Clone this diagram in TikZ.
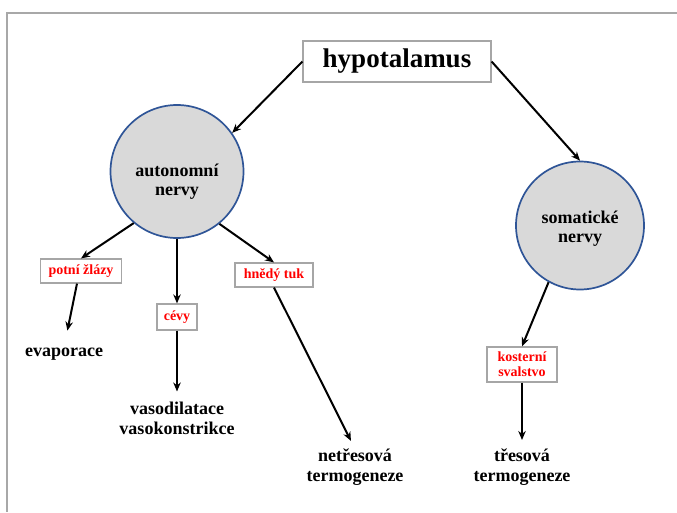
\documentclass[tikz,border=0pt]{standalone}
\usepackage{fontspec}
\setmainfont{Liberation Serif}
\usetikzlibrary{arrows.meta}
\definecolor{framegray}{HTML}{A8A8A8}
\definecolor{boxgray}{HTML}{A6A6A6}
\definecolor{circfill}{HTML}{D9D9D9}
\definecolor{circblue}{HTML}{2F5597}
\definecolor{labred}{HTML}{FF0000}
\begin{document}
\begin{tikzpicture}[x=1pt,y=-1pt,
  bigbox/.style={draw=boxgray, line width=1.2pt, fill=white, minimum width=188pt, minimum height=41pt,
    inner sep=0pt, font=\fontsize{27}{30}\selectfont\bfseries},
  nerve/.style={circle, draw=circblue, line width=1.7pt, fill=circfill, minimum size=#1, inner sep=0pt},
  nervetext/.style={align=center, font=\fontsize{18}{19.6}\selectfont\bfseries},
  redbox/.style={draw=boxgray, line width=1.2pt, fill=white, text=labred, inner sep=0pt, align=center,
    font=\fontsize{14}{15}\selectfont\bfseries},
  outtext/.style={align=center, inner sep=0pt, font=\fontsize{18}{20}\selectfont\bfseries},
  arr/.style={-{Stealth[length=9pt,width=7.5pt]}, line width=2pt, black},
]
\path[use as bounding box] (0,0) rectangle (677,512);
% page frame
\draw[framegray, line width=1.6pt] (677,13) -- (7,13) -- (7,512);

% top level
\node[bigbox] (hyp) at (397,61.5) {hypotalamus};

% nerve circles
\node[nerve=133pt, label={[nervetext, yshift=-10pt]center:{autonomní\\nervy}}] (auto) at (177,171.5) {};
\node[nerve=128pt, label={[nervetext, yshift=-3pt]center:{somatické\\nervy}}] (soma) at (580,225.5) {};

% effector boxes
\node[redbox, minimum width=81pt, minimum height=24pt] (potni) at (81,271) {potní žlázy};
\node[redbox, minimum width=40pt, minimum height=26pt] (cevy) at (177,317) {cévy};
\node[redbox, minimum width=78pt, minimum height=24pt] (hnedy) at (274,275) {hnědý tuk};
\node[redbox, minimum width=70pt, minimum height=35pt] (kost) at (522,364.5) {kosterní\\svalstvo};

% outcomes
\node[outtext, anchor=base] (evap) at (64,356) {evaporace};
\node[outtext] (vaso) at (177,418) {vasodilatace\\vasokonstrikce};
\node[outtext] (netr) at (355,467.5) {netřesová\\termogeneze};
\node[outtext] (tres) at (522,467.5) {třesová\\termogeneze};

% connectors
\draw[arr] (hyp.west) -- (auto.35);
\draw[arr] (hyp.east) -- (soma.north);
\draw[arr] (auto.230) -- (potni.north);
\draw[arr] (auto.south) -- (cevy.north);
\draw[arr] (auto.309) -- (hnedy.north);
\draw[arr, shorten >=17pt] ([xshift=-4pt]potni.south) -- (evap.north);
\draw[arr, shorten >=10pt] (cevy.south) -- (vaso.north);
\draw[arr, shorten >=9pt] (hnedy.south) -- (netr.north);
\draw[arr] (soma.241) -- (kost.north);
\draw[arr, shorten >=9pt] (kost.south) -- (tres.north);
\end{tikzpicture}
\end{document}
